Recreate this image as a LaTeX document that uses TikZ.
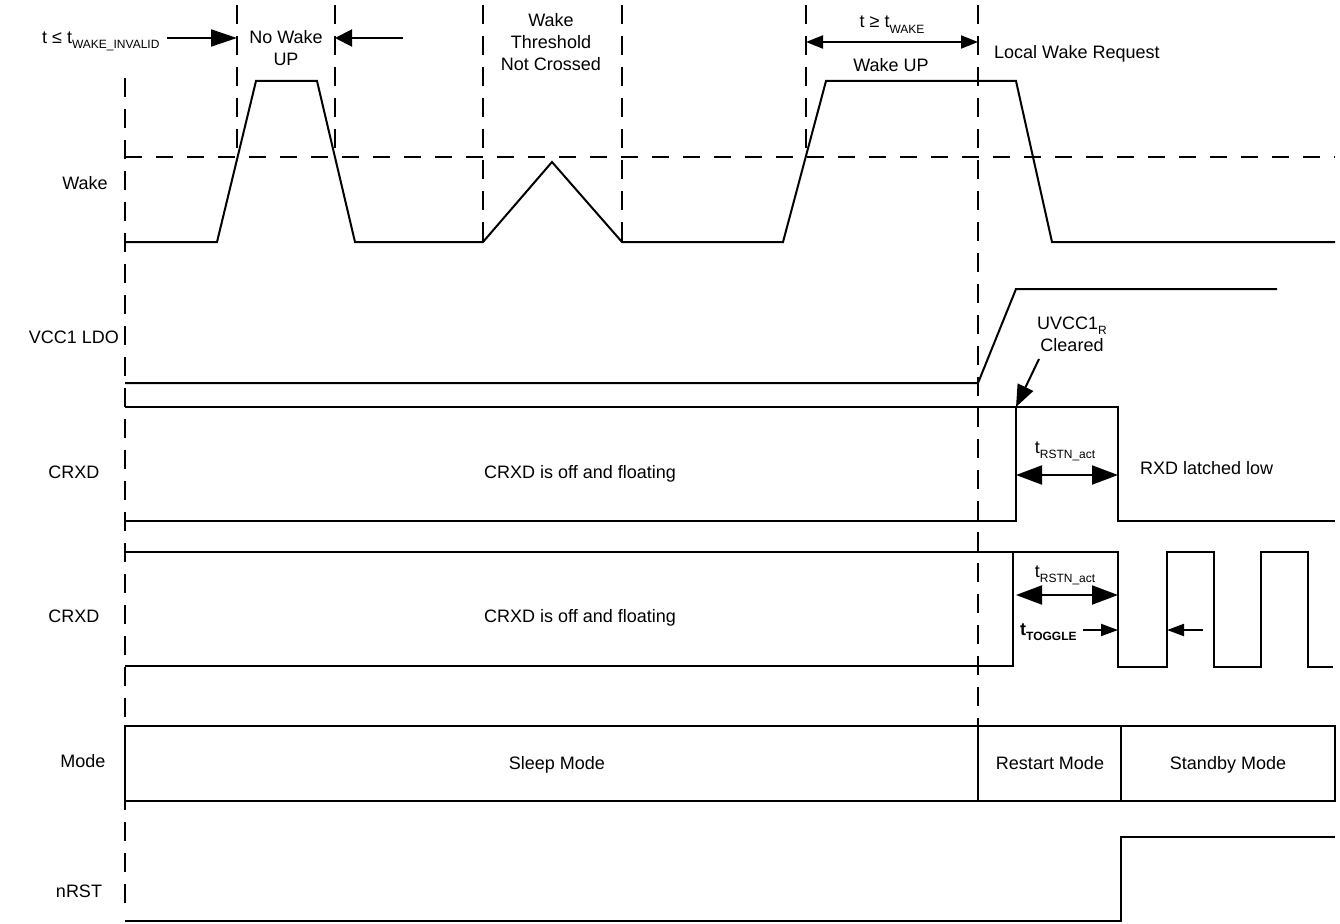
\documentclass[tikz,border=0pt]{standalone}
\usepackage{fontspec}
\setmainfont{Liberation Sans}
\usetikzlibrary{arrows.meta}
\newcommand\tsub[1]{\raisebox{-0.3em}{\fontsize{12}{12}\selectfont #1}}
\begin{document}
\begin{tikzpicture}[x=1pt,y=-1pt,
  sig/.style={line width=2pt, line join=miter},
  vdash/.style={line width=2.2pt, dash pattern=on 19pt off 12pt},
  hdash/.style={line width=2pt, dash pattern=on 17pt off 14pt},
  lbl/.style={font=\fontsize{18}{22}\selectfont, inner sep=0pt, align=center},
  one/.style={lbl, text height=13pt, text depth=0pt},
  arr/.style={line width=2pt}]
\useasboundingbox (0,0) rectangle (1340,923);
% dashed verticals
\draw[vdash] (125,78) -- (125,912);
\draw[vdash] (237,5) -- (237,157);
\draw[vdash] (335,5) -- (335,157);
\draw[vdash] (483,5) -- (483,242);
\draw[vdash] (622,5) -- (622,242);
\draw[vdash] (806,5) -- (806,150);
\draw[vdash] (978,5) -- (978,726);
% threshold
\draw[hdash] (125,157) -- (1335,157);
% Wake
\draw[sig] (125,242) -- (217,242) -- (256,81) -- (317,81) -- (355,242) -- (483,242) -- (552,162) -- (622,242) -- (783,242) -- (826,81) -- (1016,81) -- (1052,242) -- (1335,242);
% VCC1
\draw[sig] (125,383) -- (978,383) -- (1016,289) -- (1277,289);
% CRXD 1
\draw[sig] (125,407) -- (1118,407) -- (1118,521) -- (1335,521);
\draw[sig] (125,521) -- (1016,521) -- (1016,407);
% CRXD 2
\draw[sig] (125,552) -- (1118,552) -- (1118,667) -- (1167,667) -- (1167,552) -- (1214,552) -- (1214,667) -- (1261,667) -- (1261,552) -- (1308,552) -- (1308,667) -- (1333,667);
\draw[sig] (125,666) -- (1013,666) -- (1013,552);
% Mode
\draw[sig] (125,726) rectangle (1335,801);
\draw[sig] (978,726) -- (978,801);
\draw[sig] (1121,726) -- (1121,801);
% nRST
\draw[sig] (125,921) -- (1121,921) -- (1121,837) -- (1335,837);

% row labels
\node[one] (lwake) at (85,183) {Wake};
\node[one] (lvcc) at (74,337) {VCC1 LDO};
\node[one] (lcrxd1) at (74,472) {CRXD};
\node[one] (lcrxd2) at (74,616) {CRXD};
\node[one] (lmode) at (83,761) {Mode};
\node[one] (lnrst) at (79,891) {nRST};

% top annotations
\node[one, anchor=west] (tinv) at (42,37) {t ≤ t\tsub{WAKE\_INVALID}};
\node[lbl] (nowake) at (286,48) {No Wake\\UP};
\node[lbl] (thr) at (551,42) {Wake\\Threshold\\Not Crossed};
\node[one] (twake) at (892,21.5) {t ≥ t\tsub{WAKE}};
\node[one] (wakeup) at (891,65) {Wake UP};
\node[one, anchor=west] (lwr) at (994,52) {Local Wake Request};

\coordinate (a1s) at (167,38); \coordinate (a1e) at (237,38);
\coordinate (a2s) at (403,38); \coordinate (a2e) at (335,38);
\coordinate (a3s) at (806,42); \coordinate (a3e) at (978,42);
\draw[arr, -{Triangle[length=26pt,width=17pt]}] (a1s) -- (a1e);
\draw[arr, -{Triangle[length=17pt,width=17pt]}] (a2s) -- (a2e);
\draw[arr, {Triangle[length=17pt,width=13pt]}-{Triangle[length=17pt,width=13pt]}] (a3s) -- (a3e);

% UVCC1R
\node[lbl] (uvcc) at (1072,334) {UVCC1\tsub{R}\\Cleared};
\coordinate (u1) at (1039,359); \coordinate (u2) at (1016,407);
\draw[arr, -{Triangle[length=22pt,width=17pt]}] (u1) -- (u2);

% tRSTN_act 1
\node[one] (trst1) at (1065,446.5) {t\tsub{RSTN\_act}};
\coordinate (r1a) at (1016,475); \coordinate (r1b) at (1118,475);
\draw[arr, {Triangle[length=26pt,width=19pt]}-{Triangle[length=26pt,width=19pt]}] (r1a) -- (r1b);
\node[one, anchor=west] (rxdl) at (1140,468) {RXD latched low};

% tRSTN_act 2
\node[one] (trst2) at (1065,570.5) {t\tsub{RSTN\_act}};
\coordinate (r2a) at (1016,595); \coordinate (r2b) at (1118,595);
\draw[arr, {Triangle[length=26pt,width=19pt]}-{Triangle[length=26pt,width=19pt]}] (r2a) -- (r2b);

% tTOGGLE
\node[one, anchor=west, font=\fontsize{18}{22}\selectfont\bfseries] (ttog) at (1020,628.5) {t\tsub{TOGGLE}};
\coordinate (g1a) at (1083,630); \coordinate (g1b) at (1118,630);
\coordinate (g2a) at (1203,630); \coordinate (g2b) at (1167,630);
\draw[arr, -{Triangle[length=17pt,width=12pt]}] (g1a) -- (g1b);
\draw[arr, -{Triangle[length=17pt,width=12pt]}] (g2a) -- (g2b);

% inner texts
\node[one] (cr1) at (580,472) {CRXD is off and floating};
\node[one] (cr2) at (580,616) {CRXD is off and floating};
\node[one] (sleep) at (557,763) {Sleep Mode};
\node[one] (restart) at (1050,763) {Restart Mode};
\node[one] (standby) at (1228,763) {Standby Mode};
\end{tikzpicture}
\end{document}
